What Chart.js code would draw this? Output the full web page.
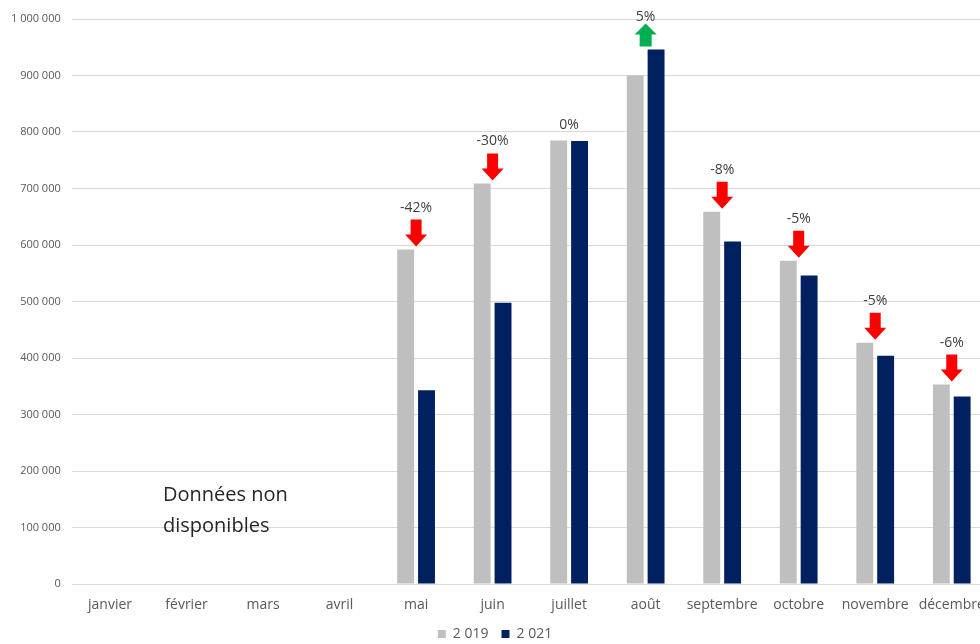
<!DOCTYPE html>
<html>
<head>
<meta charset="utf-8">
<script src="https://cdn.jsdelivr.net/npm/chart.js@4.4.1/dist/chart.umd.min.js"></script>
<style>
  html, body { margin: 0; padding: 0; background: #fff; overflow: hidden; }
  #wrap { width: 980px; height: 644px; overflow: hidden; position: relative; }
  #inner { width: 990px; height: 651px; position: relative; }
  #note { position: absolute; left: 163px; top: 478px; font-family: "Open Sans", sans-serif;
          font-size: 20px; line-height: 31px; color: #262626; }
</style>
</head>
<body>
<div id="wrap">
  <div id="inner">
    <canvas id="chart"></canvas>
  </div>
  <div id="note">Données non<br>disponibles</div>
</div>
<script>
// Mois et valeurs
const months = ['janvier', 'février', 'mars', 'avril', 'mai', 'juin', 'juillet', 'août',
                'septembre', 'octobre', 'novembre', 'décembre'];
const values2019 = [null, null, null, null, 592000, 709000, 785000, 900000, 659000, 572000, 427000, 353000];
const values2021 = [null, null, null, null, 343000, 498000, 784000, 946000, 606000, 546000, 404000, 332000];
const variations = [null, null, null, null, -42, -30, 0, 5, -8, -5, -5, -6];
const yTicks = [0, 100000, 200000, 300000, 400000, 500000, 600000, 700000, 800000, 900000, 1000000];

const FONT = '"Open Sans", sans-serif';

// Format "1 000 000"
function fmt(v) {
    return v.toString().replace(/\B(?=(\d{3})+(?!\d))/g, ' ');
}

// Flèches rouges / vertes avec le pourcentage
const arrowPlugin = {
    id: 'arrows',
    afterDatasetsDraw(chart) {
        const ctx = chart.ctx;
        const m0 = chart.getDatasetMeta(0).data;
        const m1 = chart.getDatasetMeta(1).data;
        ctx.save();
        variations.forEach(function(p, i) {
            if (p === null) return;
            const x = (m0[i].x + m1[i].x) / 2;
            const top = Math.min(m0[i].y, m1[i].y);
            let labelY;
            if (p < 0) {
                const tip = top - 3, start = tip - 27;
                ctx.fillStyle = '#ff0000';
                ctx.beginPath();
                ctx.moveTo(x - 5.5, start);
                ctx.lineTo(x + 5.5, start);
                ctx.lineTo(x + 5.5, tip - 12);
                ctx.lineTo(x + 11, tip - 12);
                ctx.lineTo(x, tip);
                ctx.lineTo(x - 11, tip - 12);
                ctx.lineTo(x - 5.5, tip - 12);
                ctx.closePath();
                ctx.fill();
                labelY = start - 12;
            } else if (p > 0) {
                const base = top - 3, tip = base - 23;
                ctx.fillStyle = '#00b050';
                ctx.beginPath();
                ctx.moveTo(x - 6, base);
                ctx.lineTo(x + 6, base);
                ctx.lineTo(x + 6, tip + 11);
                ctx.lineTo(x + 11, tip + 11);
                ctx.lineTo(x, tip);
                ctx.lineTo(x - 11, tip + 11);
                ctx.lineTo(x - 6, tip + 11);
                ctx.closePath();
                ctx.fill();
                labelY = tip - 6;
            } else {
                labelY = top - 15;
            }
            ctx.fillStyle = '#404040';
            ctx.font = '14px ' + FONT;
            ctx.textAlign = 'center';
            ctx.textBaseline = 'middle';
            ctx.fillText(p + '%', x, labelY);
        });
        ctx.restore();
    }
};

new Chart(document.getElementById('chart'), {
    type: 'bar',
    data: {
        labels: months,
        datasets: [
            { label: '2 019', data: values2019, backgroundColor: '#bfbfbf' },
            { label: '2 021', data: values2021, backgroundColor: '#002060' }
        ]
    },
    options: {
        responsive: true,
        maintainAspectRatio: false,
        animation: false,
        datasets: { bar: { categoryPercentage: 0.545, barPercentage: 0.81 } },
        layout: { padding: { left: 0, top: 19, right: 0, bottom: 0 } },
        plugins: {
            legend: {
                position: 'bottom',
                labels: { boxWidth: 8, boxHeight: 8, padding: 13, color: '#595959',
                          font: { family: FONT, size: 14 } }
            },
            tooltip: { enabled: false }
        },
        scales: {
            x: {
                grid: { display: false },
                border: { display: false },
                ticks: { color: '#595959', font: { family: FONT, size: 14 }, padding: 5, maxRotation: 0 },
                afterFit(axis) { axis.height = 30; }
            },
            y: {
                min: 0,
                max: 1000000,
                afterBuildTicks(axis) { axis.ticks = yTicks.map(v => ({ value: v })); },
                grid: { color: '#d9d9d9', drawTicks: false },
                border: { display: false },
                ticks: { color: '#595959', font: { family: FONT, size: 11 }, padding: 11,
                         callback: v => fmt(v) }
            }
        }
    },
    plugins: [arrowPlugin]
});
</script>
</body>
</html>
